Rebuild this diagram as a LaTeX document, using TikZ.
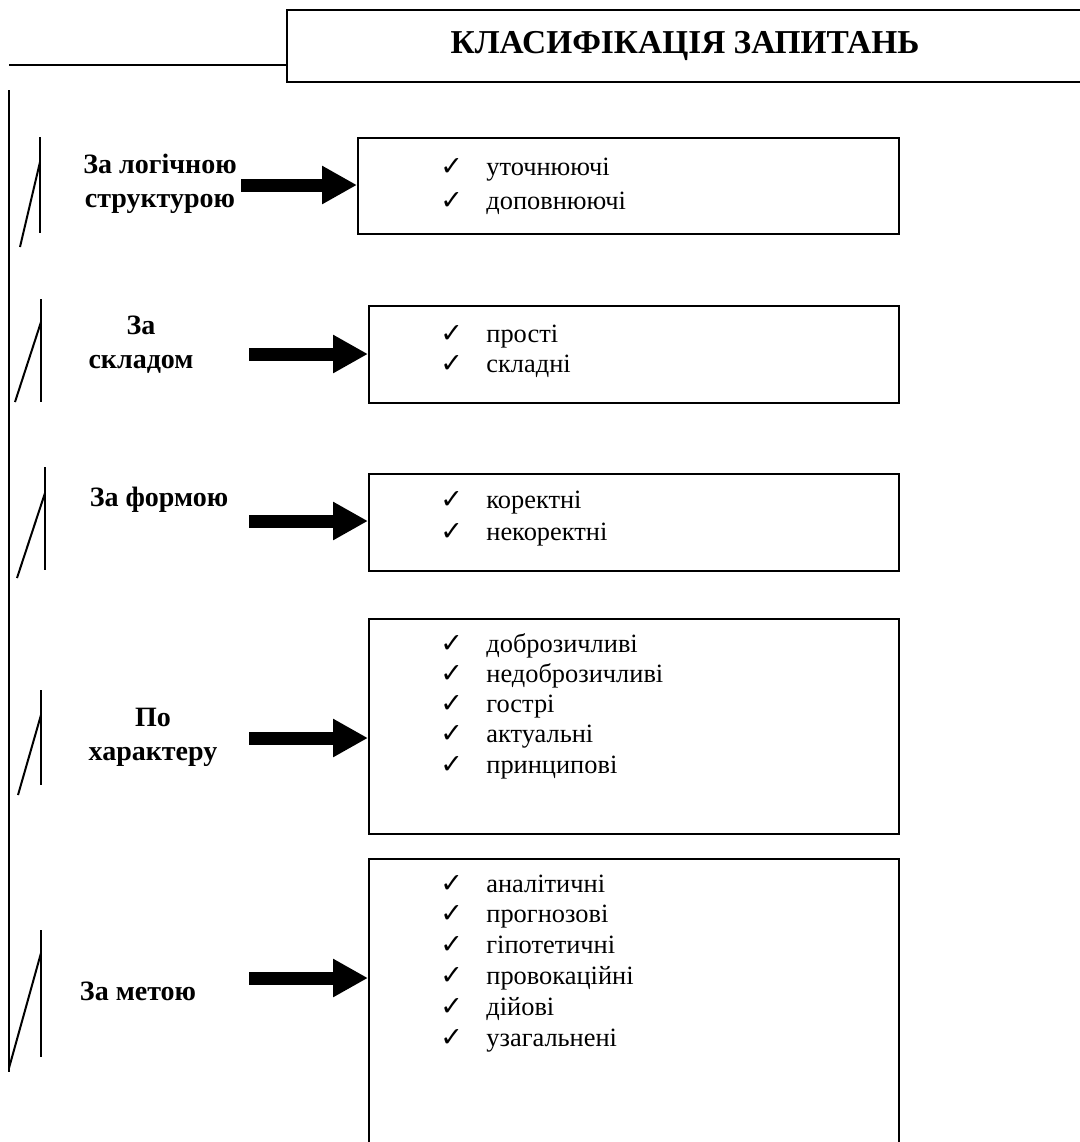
\documentclass[tikz,border=0pt]{standalone}
\usepackage{fontspec}
\setmainfont{Liberation Serif}
\newfontfamily\symfont{DejaVu Sans}
\usetikzlibrary{arrows.meta}

\newcommand{\chk}{\makebox[23pt][l]{{\symfont\fontsize{13.5}{15}\selectfont ✓}}}

\tikzset{
	kasten/.style={draw, line width=1.2pt, anchor=north west, inner sep=0pt},
	titel/.style={draw, line width=1pt, minimum width=398pt, minimum height=36pt,
		font=\fontsize{16.7}{18}\selectfont\bfseries},
	merkmal/.style={align=center, font=\fontsize{14}{17}\selectfont\bfseries},
	punkt/.style={anchor=base west, inner sep=0pt, font=\fontsize{13.2}{15}\selectfont},
	pfeil/.style={line width=6.5pt, -{Triangle[length=17.5pt,width=18pt]}}
}

\begin{document}
\begin{tikzpicture}[x=0.5pt,y=-0.5pt]
\useasboundingbox (0,0) rectangle (1080,1142);

%Ueberschrift
\node[titel] (titel) at (685,46) {КЛАСИФІКАЦІЯ ЗАПИТАНЬ};
\coordinate (links) at (9,65);
\draw[line width=1pt] (links) -- (links -| titel.west);

%Senkrechte Linie
\coordinate (oben) at (9,90);
\coordinate (unten) at (9,1072);
\draw[line width=1pt] (oben) -- (unten);

%Kleine Klammern
\foreach \x/\o/\u/\k/\p/\q in
{
40/137/233/162/20/247,
41/299/402/322/15/402,
45/467/570/493/17/578,
41/690/785/715/18/795,
41/930/1057/953/9/1068
}
{
	\draw[line width=1pt] (\x,\o) -- (\x,\u);
	\draw[line width=1pt] (\x,\k) -- (\p,\q);
}

%Merkmale
\node[merkmal] (m1) at (160,184) {За логічною\\структурою};
\node[merkmal] (m2) at (141,345) {За\\складом};
\node[merkmal] (m3) at (159,500) {За формою};
\node[merkmal] (m4) at (153,737) {По\\характеру};
\node[merkmal] (m5) at (138,991) {За метою};

%Kaesten
\foreach \n/\x/\y/\w/\h in
{
1/357/137/270.5/48,
2/368/305/265/48.5,
3/368/473/265/48.5,
4/368/618/265/107.5,
5/368/858/265/150
}
{
	\node[kasten, minimum width=\w pt, minimum height=\h pt] (b\n) at (\x,\y) {};
}

%Pfeile
\foreach \n/\s/\y in
{
1/241/185,
2/249/354,
3/249/521,
4/249/738,
5/249/978
}
{
	\coordinate (a\n) at (\s,\y);
	\draw[pfeil] (a\n) -- (a\n -| b\n.west);
}

%Listen
\foreach \t [count=\i] in {уточнюючі, доповнюючі}
	\node[punkt] (p1\i) at (440,175+34*\i-34) {\chk\t};
\foreach \t [count=\i] in {прості, складні}
	\node[punkt] (p2\i) at (440,342+30*\i-30) {\chk\t};
\foreach \t [count=\i] in {коректні, некоректні}
	\node[punkt] (p3\i) at (440,508+32*\i-32) {\chk\t};
\foreach \t [count=\i] in {доброзичливі, недоброзичливі, гострі, актуальні, принципові}
	\node[punkt] (p4\i) at (440,652+30.25*\i-30.25) {\chk\t};
\foreach \t [count=\i] in {аналітичні, прогнозові, гіпотетичні, провокаційні, дійові, узагальнені}
	\node[punkt] (p5\i) at (440,892+30.8*\i-30.8) {\chk\t};

\end{tikzpicture}
\end{document}
